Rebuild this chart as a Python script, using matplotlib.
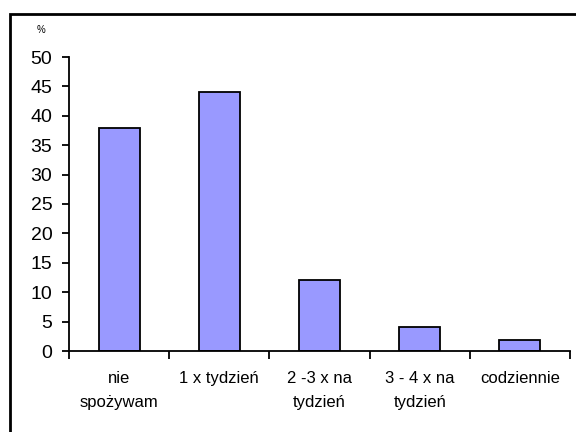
import matplotlib
matplotlib.use("Agg")
import matplotlib.pyplot as plt
from matplotlib.patches import Rectangle

categories = ["nie\nspożywam", "1 x tydzień", "2 -3 x na\ntydzień",
              "3 - 4 x na\ntydzień", "codziennie"]
values = [38, 44, 12, 4, 1.9]
yticks = list(range(0, 51, 5))

plt.rcParams['font.family'] = ['Liberation Sans', 'DejaVu Sans']

fig = plt.figure(figsize=(5.76, 4.32), dpi=100)
fig.patches.append(Rectangle((10 / 576, -0.1), 1.2, 1 - 14 / 432 + 0.1,
                             transform=fig.transFigure, fill=False,
                             edgecolor='black', linewidth=2))

ax = fig.add_axes([69 / 576, 1 - 351 / 432, 501 / 576, 294 / 432])
x = list(range(len(categories)))
ax.bar(x, values, width=0.41, color='#9999FF', edgecolor='black', linewidth=1.3)

ax.set_xlim(-0.5, len(categories) - 0.5)
ax.set_ylim(0, 50)
ax.set_yticks(yticks)
ax.tick_params(axis='y', labelsize=14, length=5, width=1.3, direction='out', pad=7)

# category labels between boundary ticks
ax.set_xticks([i - 0.5 for i in range(len(categories) + 1)])
ax.set_xticklabels([])
ax.tick_params(axis='x', length=6, width=1.3, direction='out')
for i, c in enumerate(categories):
    ax.text(i, -3.4, c, ha='center', va='top', fontsize=12,
            linespacing=1.72, transform=ax.transData)

for s in ['top', 'right']:
    ax.spines[s].set_visible(False)
ax.spines['left'].set_linewidth(1.3)
ax.spines['bottom'].set_linewidth(1.3)

fig.text(41 / 576, 1 - 30 / 432, "%", fontsize=7, ha='center', va='center')

fig.savefig("out.png", dpi=100)
